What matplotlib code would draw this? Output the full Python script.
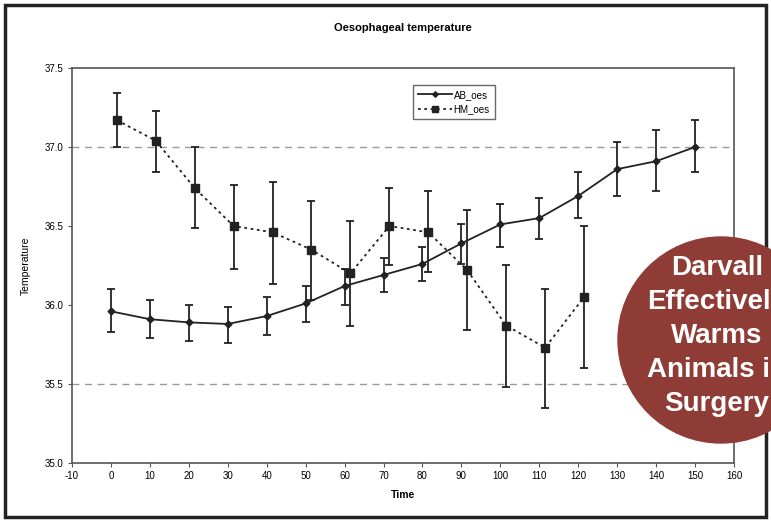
import matplotlib
matplotlib.use("Agg")
import matplotlib.pyplot as plt
from matplotlib.patches import Circle, Rectangle

plt.rcParams['font.family'] = ['Liberation Sans', 'DejaVu Sans']

# ---- data ----
ab_time = [0, 10, 20, 30, 40, 50, 60, 70, 80, 90, 100, 110, 120, 130, 140, 150]
ab_mean = [35.96, 35.91, 35.89, 35.88, 35.93, 36.01, 36.12, 36.19, 36.26, 36.39, 36.51, 36.55, 36.69, 36.86, 36.91, 37.00]
ab_low  = [35.83, 35.79, 35.77, 35.76, 35.81, 35.89, 36.00, 36.08, 36.15, 36.26, 36.37, 36.42, 36.55, 36.69, 36.72, 36.84]
ab_high = [36.10, 36.03, 36.00, 35.99, 36.05, 36.12, 36.23, 36.30, 36.37, 36.51, 36.64, 36.68, 36.84, 37.03, 37.11, 37.17]

hm_time = [1.5, 11.5, 21.5, 31.5, 41.5, 51.5, 61.5, 71.5, 81.5, 91.5, 101.5, 111.5, 121.5]
hm_mean = [37.17, 37.04, 36.74, 36.50, 36.46, 36.35, 36.20, 36.50, 36.46, 36.22, 35.87, 35.73, 36.05]
hm_low  = [37.00, 36.84, 36.49, 36.23, 36.13, 36.03, 35.87, 36.25, 36.21, 35.84, 35.48, 35.35, 35.60]
hm_high = [37.34, 37.23, 37.00, 36.76, 36.78, 36.66, 36.53, 36.74, 36.72, 36.60, 36.25, 36.10, 36.50]

x_ticks = [-10, 0, 10, 20, 30, 40, 50, 60, 70, 80, 90, 100, 110, 120, 130, 140, 150, 160]
y_ticks = [35.0, 35.5, 36.0, 36.5, 37.0, 37.5]
grid_levels = [35.5, 37.0]

series_names = ['AB_oes', 'HM_oes']
title = 'Oesophageal temperature'
badge_lines = ['Darvall', 'Effectively', 'Warms', 'Animals in', 'Surgery']

W, H = 771, 522
fig = plt.figure(figsize=(W / 100, H / 100), dpi=100)
fig.patch.set_facecolor('white')

ax = fig.add_axes([72 / W, 1 - 463 / H, (734 - 72) / W, (463 - 68) / H])
ax.set_xlim(-10, 160)
ax.set_ylim(35.0, 37.5)
ax.set_xticks(x_ticks)
ax.set_yticks(y_ticks)
ax.set_xticklabels([str(t) for t in x_ticks])
ax.set_yticklabels([f'{v:.1f}' for v in y_ticks])
ax.tick_params(labelsize=7, length=3, width=0.8, color='#555555', pad=3)
for s in ax.spines.values():
    s.set_color('#555555')
    s.set_linewidth(1.2)

for g in grid_levels:
    ax.axhline(g, color='#999999', lw=1.0, ls=(0, (5, 4)), zorder=0)

ab_err = [[m - l for m, l in zip(ab_mean, ab_low)], [h - m for m, h in zip(ab_mean, ab_high)]]
hm_err = [[m - l for m, l in zip(hm_mean, hm_low)], [h - m for m, h in zip(hm_mean, hm_high)]]

ax.errorbar(ab_time, ab_mean, yerr=ab_err, fmt='none', ecolor='#222222',
            capsize=3, elinewidth=1.3, capthick=1.3, zorder=3)
ax.errorbar(hm_time, hm_mean, yerr=hm_err, fmt='none', ecolor='#222222',
            capsize=3, elinewidth=1.3, capthick=1.3, zorder=3)
ax.plot(ab_time, ab_mean, color='#222222', lw=1.3, marker='D', ms=3.5,
        label=series_names[0], zorder=4)
ax.plot(hm_time, hm_mean, color='#222222', lw=1.3, ls=(0, (1.5, 2)), marker='s', ms=6,
        label=series_names[1], zorder=4)

leg = ax.legend(loc='upper left', bbox_to_anchor=((408 - 72) / (734 - 72), 1 - (80 - 68) / (463 - 68)),
                fontsize=7, frameon=True, fancybox=False, edgecolor='#444444',
                handlelength=3.5, borderpad=0.5, labelspacing=0.5, handletextpad=0.2,
                markerscale=0.8)
leg.get_frame().set_linewidth(1.0)

ax.set_xlabel('Time', fontsize=7.5, fontweight='bold', labelpad=6)
ax.set_ylabel('Temperature', fontsize=7.5, labelpad=10)
fig.text((72 + 734) / 2 / W, 1 - 28 / H, title, ha='center', va='center',
         fontsize=8, fontweight='bold')

# overlay in pixel coordinates
ov = fig.add_axes([0, 0, 1, 1])
ov.set_xlim(0, W)
ov.set_ylim(H, 0)
ov.axis('off')
ov.add_patch(Rectangle((5, 5), W - 10, H - 10, fill=False, ec='#222222', lw=2.5))
ov.add_patch(Circle((721, 340), 103, color='#8f3b36', zorder=5))
for i, line in enumerate(badge_lines):
    ov.text(717, 268 + 34 * i, line, ha='center', va='center', color='white',
            fontsize=20, fontweight='bold', zorder=6)

fig.savefig('out.png', dpi=100)
